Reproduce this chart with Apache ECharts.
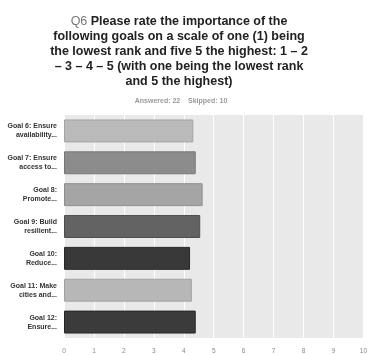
<!DOCTYPE html>
<html>
<head>
<meta charset="utf-8">
<script src="https://cdn.jsdelivr.net/npm/echarts@6/dist/echarts.min.js"></script>
<style>
  html, body { margin: 0; padding: 0; background: #fff; }
  #chart { width: 370px; height: 355px; }
</style>
</head>
<body>
<div id="chart"></div>
<script>
  // Survey goals (top to bottom) and their average rating
  const categories = [
    'Goal 6: Ensure\navailability...',
    'Goal 7: Ensure\naccess to...',
    'Goal 8:\nPromote...',
    'Goal 9: Build\nresilient...',
    'Goal 10:\nReduce...',
    'Goal 11: Make\ncities and...',
    'Goal 12:\nEnsure...'
  ];
  const ratings = [4.32, 4.40, 4.63, 4.55, 4.21, 4.27, 4.40];
  const xTicks = [0, 1, 2, 3, 4, 5, 6, 7, 8, 9, 10];

  const barColors = ['#bababa', '#8c8c8c', '#a5a5a5', '#636363', '#393939', '#b7b7b7', '#3b3b3b'];
  const borderColors = ['#a4a4a4', '#777777', '#8f8f8f', '#4e4e4e', '#262626', '#a2a2a2', '#272727'];

  const FONT = '"Liberation Sans", Arial, sans-serif';

  const chart = echarts.init(document.getElementById('chart'), null, { renderer: 'canvas' });

  const option = {
    backgroundColor: '#ffffff',
    animation: false,
    title: [
      {
        text: '{q|Q6} Please rate the importance of the\nfollowing goals on a scale of one (1) being\nthe lowest rank and five 5 the highest: 1 – 2\n– 3 – 4 – 5 (with one being the lowest rank\nand 5 the highest)',
        left: 174,
        top: 9,
        textAlign: 'center',
        textStyle: {
          fontFamily: FONT,
          fontSize: 12.5,
          fontWeight: 'bold',
          color: '#222222',
          lineHeight: 15,
          rich: {
            q: { fontFamily: FONT, fontSize: 12.5, fontWeight: 'normal', color: '#777777', lineHeight: 15 }
          }
        }
      },
      {
        text: 'Answered: 22    Skipped: 10',
        left: 176,
        top: 93,
        textAlign: 'center',
        textStyle: { fontFamily: FONT, fontSize: 7, fontWeight: 'bold', color: '#9a9a9a' }
      }
    ],
    grid: {
      left: 64,
      top: 115,
      width: 301,
      height: 223,
      show: true,
      backgroundColor: '#e9e9e9',
      borderWidth: 0
    },
    xAxis: {
      type: 'value',
      min: 0,
      max: 10,
      interval: 1,
      axisLine: { show: false },
      axisTick: { show: false },
      axisLabel: {
        fontFamily: FONT,
        fontSize: 6.5,
        color: '#888888',
        margin: 10,
        formatter: v => xTicks.includes(v) ? String(v) : ''
      },
      splitLine: { lineStyle: { color: '#ffffff', width: 1 } }
    },
    yAxis: {
      type: 'category',
      data: categories,
      inverse: true,
      axisLine: { show: false },
      axisTick: { show: false },
      axisLabel: {
        fontFamily: FONT,
        fontSize: 7,
        fontWeight: 'bold',
        color: '#333333',
        lineHeight: 9,
        margin: 7,
        align: 'right'
      },
      splitLine: { show: false }
    },
    series: [
      {
        type: 'bar',
        data: ratings.map((v, i) => ({
          value: v,
          itemStyle: { color: barColors[i], borderColor: borderColors[i], borderWidth: 1 }
        })),
        barWidth: '72%',
        silent: true
      }
    ]
  };

  chart.setOption(option);
</script>
</body>
</html>
